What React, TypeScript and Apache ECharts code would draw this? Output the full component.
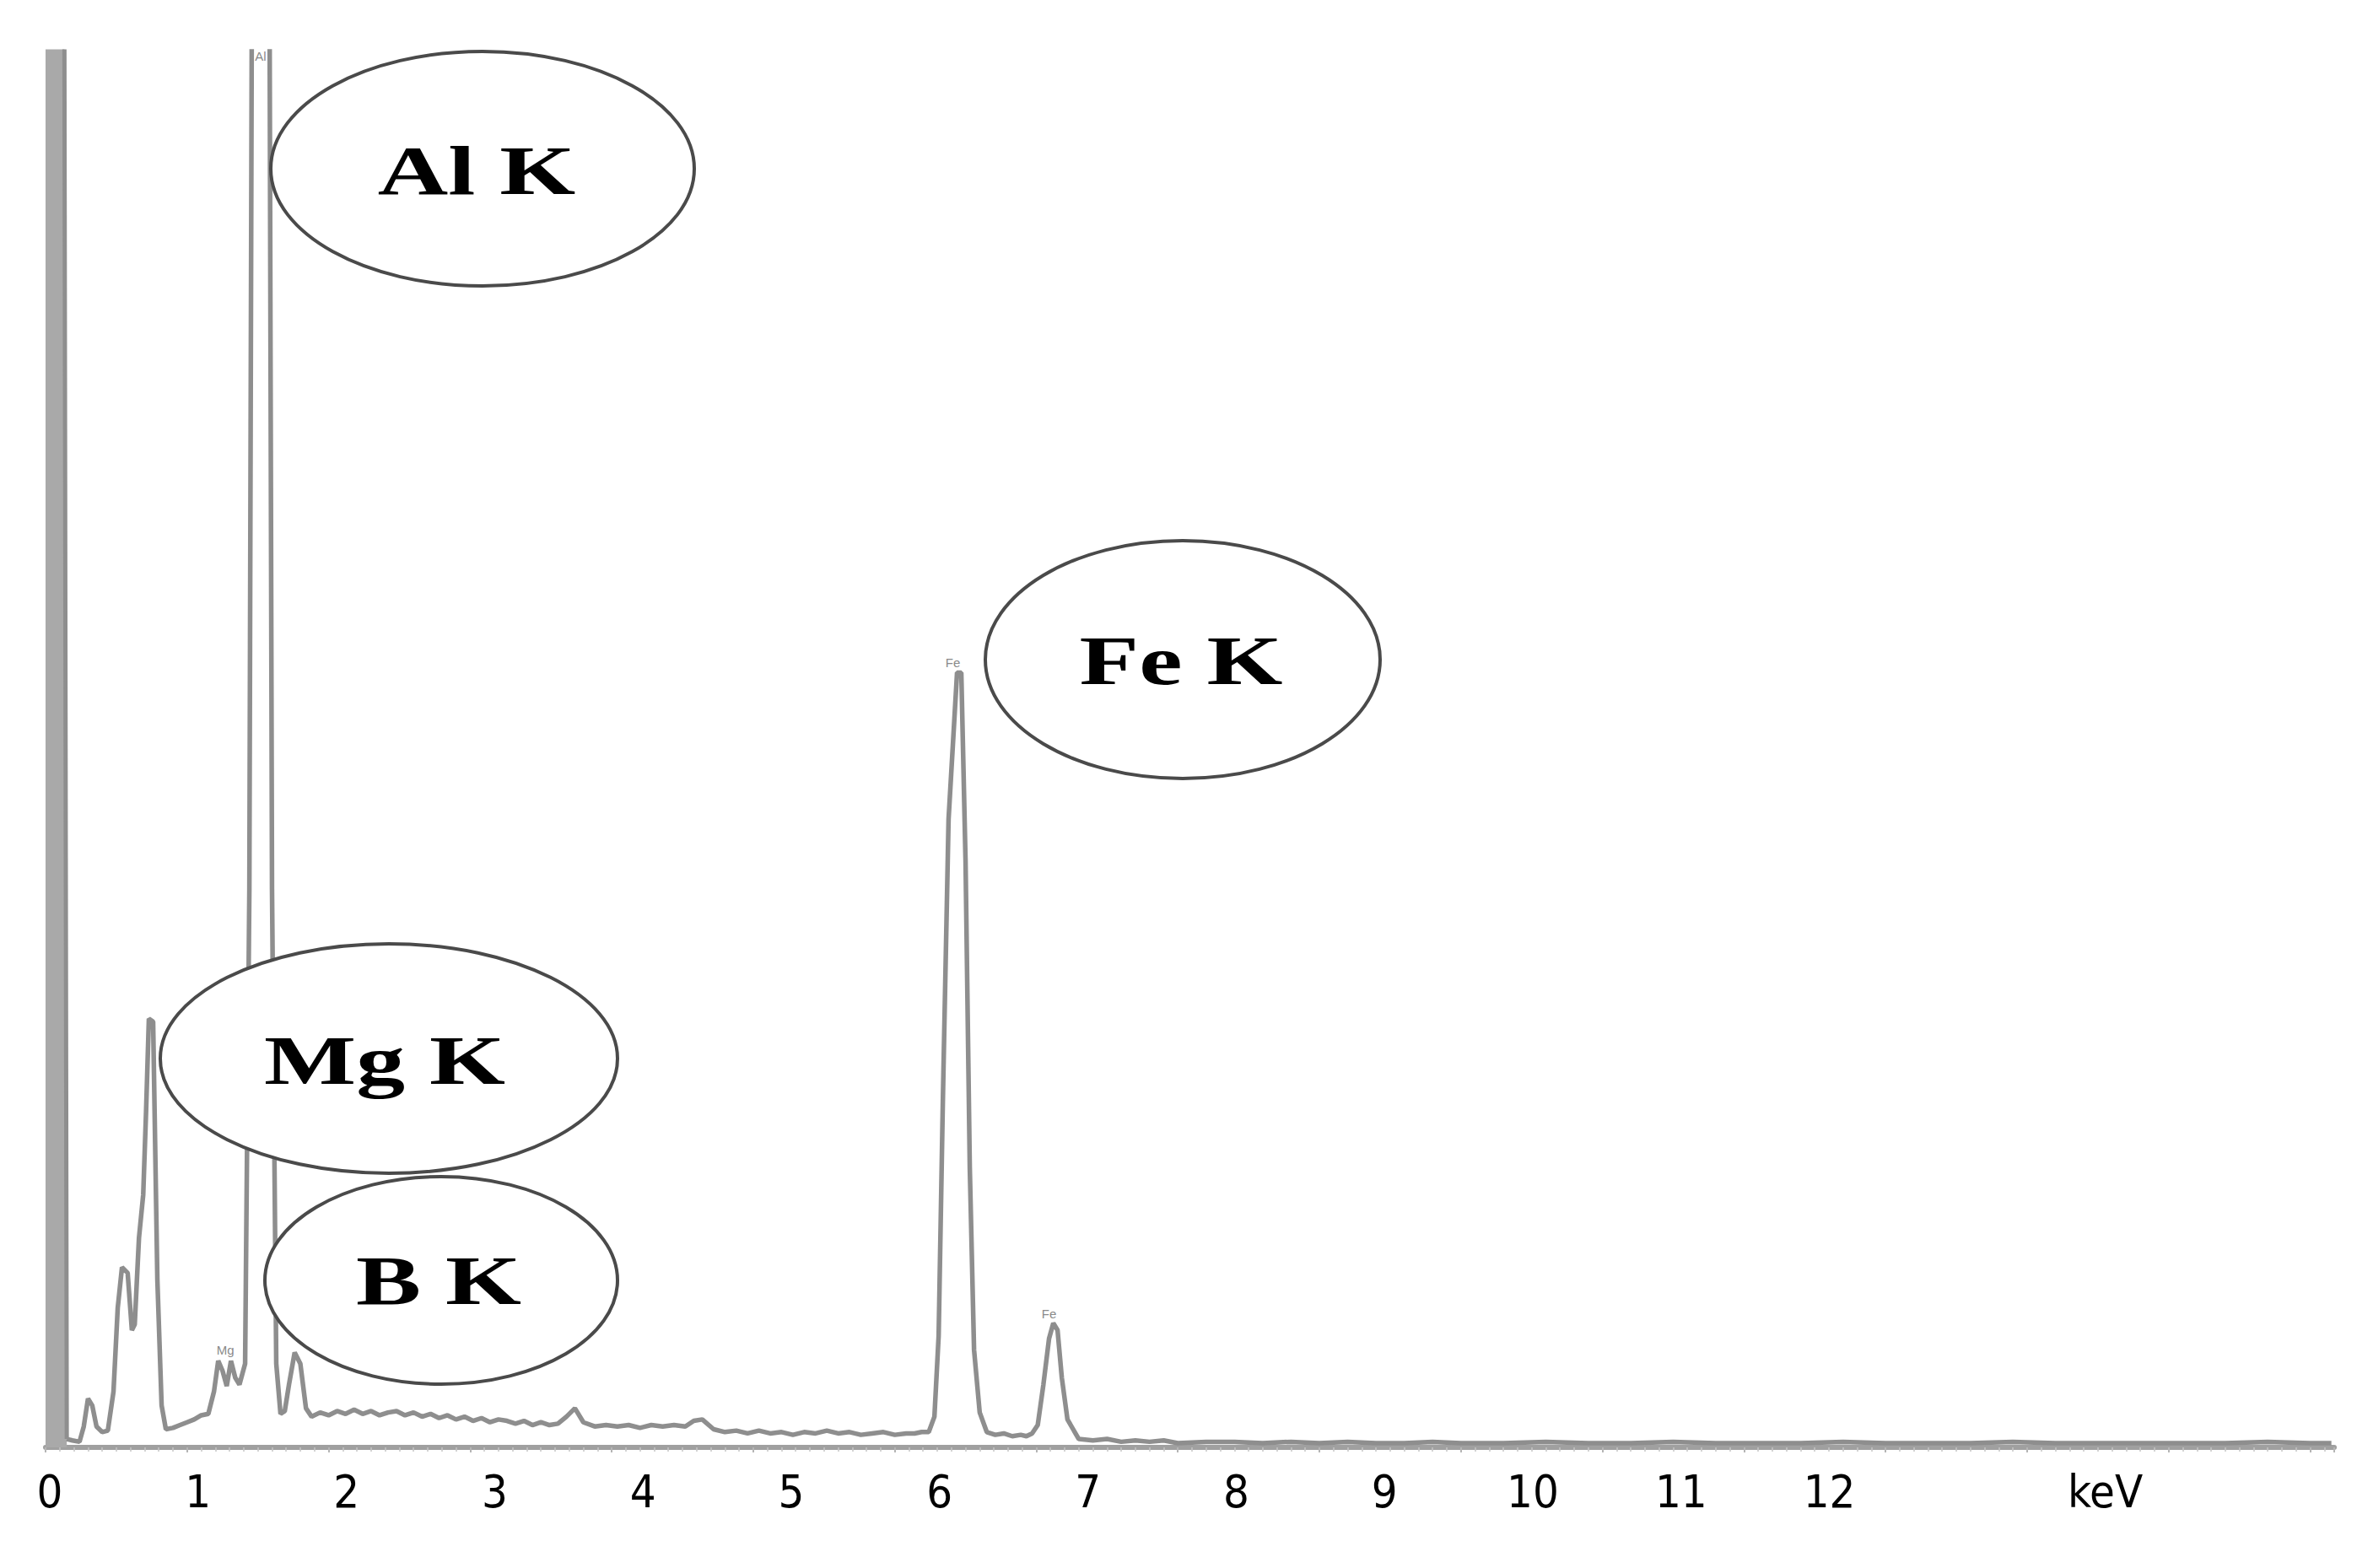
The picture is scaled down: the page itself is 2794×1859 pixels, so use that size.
import React, { useEffect, useRef } from "react";
import * as echarts from "echarts";

// ---------- DATA ----------
// Zero-energy (noise) peak, drawn as a filled band
const zeroPeakEnergy: number[] = [0.0, 0.125, 0.15];
const zeroPeakCounts: number[] = [150, 150, 0.6];

// Energy (keV) of each sampled point of the EDS spectrum
const energy: number[] = [
  0.15, 0.19, 0.24, 0.27, 0.3, 0.33, 0.36, 0.4, 0.44, 0.48, 0.51, 0.54, 0.58, 0.61, 0.63, 0.66, 0.69, 0.71, 0.73,
  0.76, 0.79, 0.82, 0.85,
  0.9, 0.95, 1.0, 1.05, 1.1, 1.15, 1.19, 1.22, 1.25, 1.28, 1.31, 1.34, 1.37, 1.41,
  1.44, 1.47, 1.57, 1.6, 1.63, 1.66, 1.69, 1.72, 1.76, 1.8, 1.84, 1.88,
  1.94, 2.0, 2.06, 2.12, 2.18, 2.24, 2.3, 2.36, 2.42, 2.48, 2.54, 2.6, 2.66, 2.72, 2.78, 2.84, 2.9, 2.96,
  3.02, 3.08, 3.14, 3.2, 3.26, 3.32, 3.38, 3.44, 3.5, 3.56, 3.62, 3.68, 3.74, 3.8, 3.88, 3.96, 4.04, 4.12, 4.2,
  4.28, 4.36, 4.44, 4.52, 4.58, 4.64, 4.72, 4.8, 4.88, 4.96, 5.04, 5.12, 5.2, 5.28, 5.36, 5.44, 5.52, 5.6, 5.68,
  5.76, 5.84, 5.92, 6.0, 6.08, 6.14,
  6.19, 6.24, 6.28, 6.31, 6.34, 6.38, 6.44, 6.47, 6.5, 6.53, 6.56, 6.6, 6.65,
  6.71, 6.77, 6.83, 6.89, 6.93,
  6.97, 7.01, 7.05, 7.09, 7.12, 7.15, 7.18, 7.22,
  7.3, 7.4, 7.5, 7.6, 7.7, 7.8, 7.9, 8.0, 8.2, 8.4, 8.6, 8.8, 9.0, 9.2, 9.4, 9.6, 9.8, 10.0, 10.3, 10.6, 10.9,
  11.2, 11.5, 11.8, 12.1, 12.4, 12.7, 13.0, 13.3, 13.6, 13.9, 14.2, 14.5, 14.8, 15.1, 15.4, 15.7, 16.0, 16.15,
];

// Counts (relative, 100 = top of the plot; clipped peaks exceed it)
const counts: number[] = [
  0.6, 0.5, 0.4, 1.5, 3.5, 3.0, 1.5, 1.1, 1.2, 4, 10, 12.9, 12.5, 8.4, 8.8, 15, 18.1, 24, 30.7,
  30.5, 12, 3, 1.3,
  1.4, 1.6, 1.8, 2.0, 2.3, 2.4, 4.0, 6.2, 5.5, 4.4, 6.2, 5.0, 4.5, 6,
  40, 150, 150, 40, 6, 2.4, 2.6, 4.5, 6.8, 6.0, 2.8, 2.2,
  2.5, 2.3, 2.6, 2.4, 2.7, 2.4, 2.6, 2.3, 2.5, 2.6, 2.3, 2.5, 2.2, 2.4, 2.1, 2.3, 2.0, 2.2,
  1.9, 2.1, 1.8, 2.0, 1.9, 1.7, 1.9, 1.6, 1.8, 1.6, 1.7, 2.2, 2.8, 1.8, 1.5, 1.6, 1.5, 1.6, 1.4,
  1.6, 1.5, 1.6, 1.5, 1.9, 2.0, 1.3, 1.1, 1.2, 1.0, 1.2, 1.0, 1.1, 0.9, 1.1, 1.0, 1.2, 1.0, 1.1, 0.9,
  1.0, 1.1, 0.9, 1.0, 1.0, 1.1,
  1.1, 2.2, 8, 25, 45, 55.5, 55.5, 42, 20, 7, 2.5, 1.1, 0.9,
  1.0, 0.8, 0.9, 0.8, 1.0,
  1.6, 4.5, 7.8, 8.9, 8.4, 5, 2, 0.6,
  0.5, 0.6, 0.4, 0.5, 0.4, 0.5, 0.3, 0.4, 0.4, 0.3, 0.4, 0.3, 0.4, 0.3, 0.3, 0.4, 0.3, 0.3, 0.4, 0.3, 0.3,
  0.4, 0.3, 0.3, 0.3, 0.4, 0.3, 0.3, 0.3, 0.4, 0.3, 0.3, 0.3, 0.3, 0.3, 0.4, 0.3, 0.3, 0.3,
];

// Axis tick labels
const tickValues: number[] = [0, 1, 2, 3, 4, 5, 6, 7, 8, 9, 10, 11, 12];
const tickLabels: string[] = ["0", "1", "2", "3", "4", "5", "6", "7", "8", "9", "10", "11", "12"];
const unitLabel = "keV";
const unitValue = 13.86;

// Peak annotations
const annotationTexts: string[] = ["Al K", "Fe K", "Mg K", "B K"];
// Tiny peak markers
const peakMarkNames: string[] = ["Al", "Mg", "Fe", "Fe"];
const peakMarkEnergy: number[] = [1.52, 1.27, 6.41, 7.09];
const peakMarkCounts: number[] = [99, 6.3, 55.5, 8.9];

// ---------- LAYOUT (pixels) ----------
const W = 2794;
const H = 1859;
const ellipseLayout = [
  { cx: 572, cy: 200, rx: 251, ry: 139, tx: 565, ty: 203 },
  { cx: 1402, cy: 782, rx: 234, ry: 141, tx: 1400, ty: 784 },
  { cx: 461, cy: 1255, rx: 271, ry: 136, tx: 456, ty: 1258 },
  { cx: 523, cy: 1518, rx: 209, ry: 123, tx: 520, ty: 1519 },
];

export default function App() {
  const ref = useRef<HTMLDivElement>(null);

  useEffect(() => {
    if (!ref.current) return;
    const chart = echarts.init(ref.current, null, { renderer: "svg" });

    const graphic: any[] = [];
    annotationTexts.forEach((t, i) => {
      const L = ellipseLayout[i];
      graphic.push({
        type: "ellipse",
        z: 100,
        shape: { cx: L.cx, cy: L.cy, rx: L.rx, ry: L.ry },
        style: { fill: "#ffffff", stroke: "#4a4a4a", lineWidth: 4 },
      });
      graphic.push({
        type: "text",
        z: 101,
        x: L.tx,
        y: L.ty,
        scaleX: 1.41,
        style: {
          text: t,
          font: 'bold 82px "Liberation Serif", "Times New Roman", serif',
          textAlign: "center",
          textVerticalAlign: "middle",
          fill: "#000000",
        },
      });
    });

    chart.setOption({
      animation: false,
      backgroundColor: "#ffffff",
      grid: { left: 54, right: 27, top: 61, bottom: 143, containLabel: false },
      xAxis: [
        {
          type: "value",
          min: 0,
          max: 16.17,
          interval: 1,
          position: "bottom",
          axisLine: { show: true, onZero: false, lineStyle: { color: "#a0a0a0", width: 6 } },
          axisTick: { show: true, length: 6, lineStyle: { color: "#b5b5b5", width: 2 } },
          minorTick: { show: true, splitNumber: 10, length: 5, lineStyle: { color: "#c4c4c4", width: 1.5 } },
          axisLabel: { show: false },
          splitLine: { show: false },
        },
        {
          type: "value",
          min: -0.0284,
          max: 15.404,
          position: "bottom",
          axisLine: { show: false },
          axisTick: { show: false },
          splitLine: { show: false },
          axisLabel: {
            show: true,
            customValues: [...tickValues, unitValue],
            formatter: (v: number) => {
              const i = tickValues.indexOf(v);
              if (i >= 0) return tickLabels[i];
              if (Math.abs(v - unitValue) < 1e-6) return unitLabel;
              return "";
            },
            margin: 25,
            fontSize: 54,
            color: "#000000",
            fontFamily: "'Liberation Sans Narrow', 'DejaVu Sans Condensed', 'Liberation Sans', sans-serif",
          },
        },
      ],
      yAxis: { type: "value", min: 0, max: 100, show: false },
      series: [
        {
          type: "line",
          name: "zero peak",
          xAxisIndex: 0,
          data: zeroPeakEnergy.map((e, i) => [e, zeroPeakCounts[i]]),
          showSymbol: false,
          symbol: "none",
          clip: true,
          lineStyle: { color: "#8e8e8e", width: 5 },
          areaStyle: { color: "#a9a9a9", opacity: 1 },
        },
        {
          type: "line",
          name: "spectrum",
          xAxisIndex: 0,
          data: energy.map((e, i) => [e, counts[i]]),
          showSymbol: false,
          symbol: "none",
          clip: true,
          lineStyle: { color: "#8e8e8e", width: 5.5 },
          markPoint: {
            symbol: "circle",
            symbolSize: 0,
            label: {
              show: true,
              position: "top",
              distance: 4,
              formatter: "{b}",
              fontSize: 15,
              color: "#8a8a8a",
            },
            data: peakMarkNames.map((n, i) => ({
              name: n,
              coord: [peakMarkEnergy[i], peakMarkCounts[i]],
            })),
          },
        },
      ],
      graphic,
    });

    return () => chart.dispose();
  }, []);

  return (
    <div
      ref={ref}
      style={{ position: "fixed", left: 0, top: 0, width: W, height: H, background: "#fff" }}
    />
  );
}
